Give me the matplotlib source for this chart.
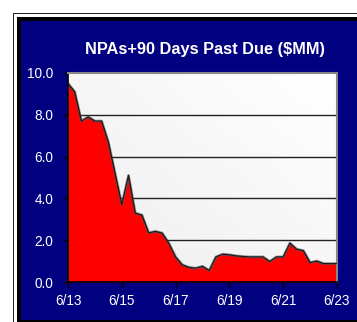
import numpy as np
import matplotlib
matplotlib.use("Agg")
import matplotlib.pyplot as plt
from matplotlib.patches import Rectangle

plt.rcParams['font.family'] = ['Liberation Sans', 'DejaVu Sans']

# quarterly NPAs + 90 days past due, $MM, 6/13 through 6/23
quarters = list(range(41))
npa = [9.5, 9.1, 7.7, 7.9, 7.7, 7.7, 6.7, 5.2, 3.7, 5.1,
       3.3, 3.2, 2.35, 2.42, 2.34, 1.85, 1.2, 0.82, 0.7, 0.66,
       0.75, 0.55, 1.2, 1.33, 1.3, 1.25, 1.22, 1.2, 1.2, 1.2,
       0.98, 1.2, 1.2, 1.86, 1.57, 1.5, 0.93, 1.0, 0.88, 0.88,
       0.88]
tick_pos = [0, 8, 16, 24, 32, 40]
tick_labels = ['6/13', '6/15', '6/17', '6/19', '6/21', '6/23']
y_ticks = [0, 2, 4, 6, 8, 10]

W, H = 357, 322
fig = plt.figure(figsize=(W / 100, H / 100), dpi=100, facecolor='white')

# frame: thin black, white gap, thick black, navy panel
bg = fig.add_axes([0, 0, 1, 1])
bg.set_xlim(0, W)
bg.set_ylim(H, 0)
bg.axis('off')
bg.add_patch(Rectangle((12.5, 12.5), 400, 400, facecolor='#222222', edgecolor='none'))
bg.add_patch(Rectangle((14, 14), 400, 400, facecolor='white', edgecolor='none'))
bg.add_patch(Rectangle((16.5, 16.5), 400, 400, facecolor='black', edgecolor='none'))
bg.add_patch(Rectangle((20.5, 20.5), 400, 299.5, facecolor='#000080', edgecolor='none'))

bg.text(205, 49, 'NPAs+90 Days Past Due ($MM)', color='white', fontsize=11.8,
        fontweight='bold', ha='center', va='center')

left, right, top, bottom = 68, 337, 73, 282
ax = fig.add_axes([left / W, (H - bottom) / H, (right - left) / W, (bottom - top) / H])

# diagonal grey-to-white gradient behind the plot
gx, gy = np.meshgrid(np.linspace(0, 1, 200), np.linspace(0, 1, 200))
grad = (gx + (1 - gy)) / 2
ax.imshow(grad, cmap='Greys_r', vmin=-6.0, vmax=1.0, extent=[0, 40, 0, 10],
          aspect='auto', origin='upper', zorder=0)

for yv in [2, 4, 6, 8]:
    ax.axhline(yv, color='#222222', lw=1, zorder=1)

ax.fill_between(quarters, npa, 0, color='#ff0000', lw=0, zorder=2)
ax.plot(quarters, npa, color='#555555', lw=2.0, zorder=2.5, alpha=0.6)
ax.plot(quarters, npa, color='#1a1a1a', lw=0.9, zorder=3)

ax.set_xlim(0, 40)
ax.set_ylim(0, 10)
ax.set_xticks(tick_pos)
ax.set_xticklabels(tick_labels)
ax.set_yticks(y_ticks)
ax.set_yticklabels([f'{v:.1f}' for v in y_ticks])
ax.tick_params(axis='both', colors='black', labelcolor='white', labelsize=9.8,
               length=3.5, width=1, direction='out')
ax.tick_params(axis='y', pad=7)
ax.tick_params(axis='x', pad=5)
for s in ['left', 'bottom']:
    ax.spines[s].set_color('black')
    ax.spines[s].set_linewidth(1.2)
for s in ['top', 'right']:
    ax.spines[s].set_color('#888888')
    ax.spines[s].set_linewidth(1.5)

fig.savefig('out.png', dpi=100, facecolor='white')
